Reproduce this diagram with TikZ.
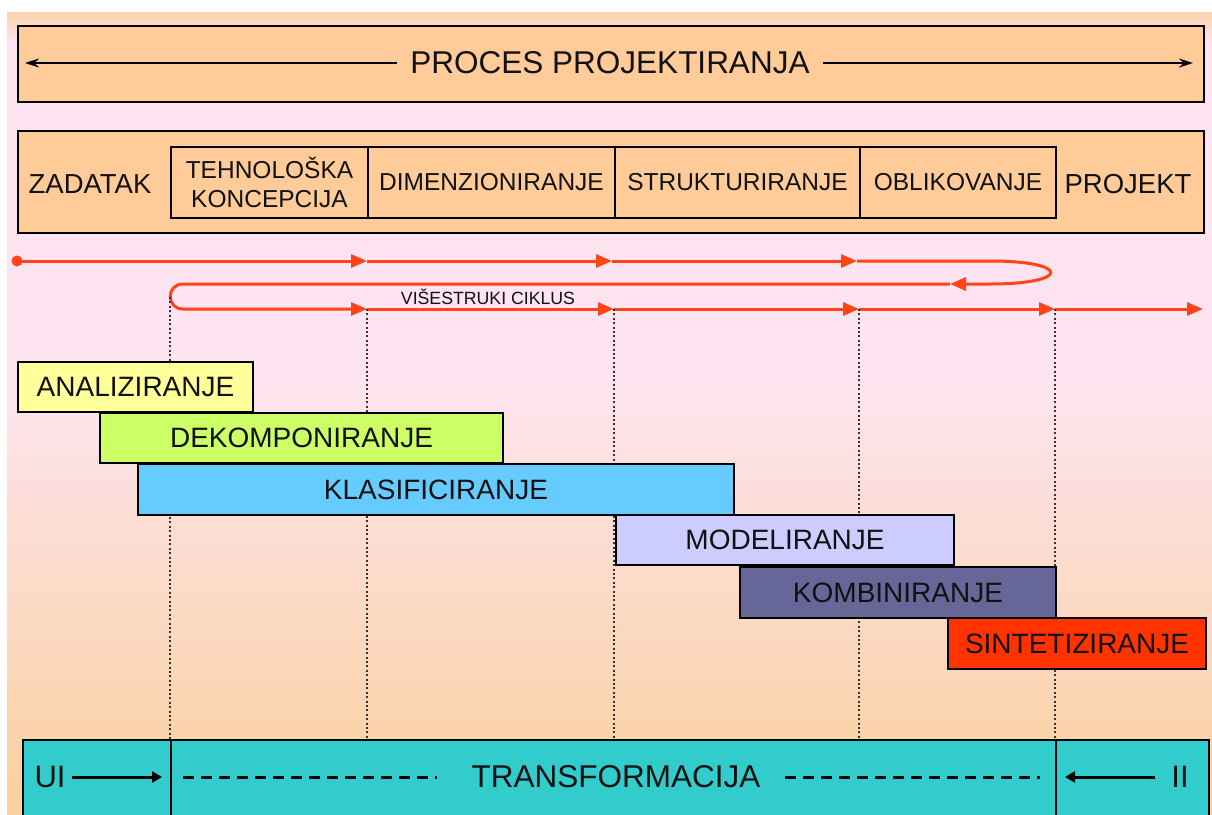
\documentclass[tikz,border=0pt]{standalone}
\usepackage{fontspec}
\setmainfont{Liberation Sans}
\usetikzlibrary{arrows.meta}
\definecolor{peach}{HTML}{FFCC99}
\definecolor{bgtop}{HTML}{FCD3AE}
\definecolor{bgpink}{HTML}{FDE4F0}
\definecolor{bgbot}{HTML}{FAD09C}
\definecolor{redc}{HTML}{FF4418}
\definecolor{cana}{HTML}{FFFF99}
\definecolor{cdek}{HTML}{CCFF66}
\definecolor{ckla}{HTML}{66CCFF}
\definecolor{cmod}{HTML}{CCCCFF}
\definecolor{ckom}{HTML}{666699}
\definecolor{csin}{HTML}{FF3300}
\definecolor{cteal}{HTML}{33CCCC}
\definecolor{txt}{HTML}{111111}
\pgfdeclareverticalshading{bgshade}{100bp}{color(0bp)=(bgbot); color(25bp)=(bgbot); color(52bp)=(bgpink); color(73bp)=(bgpink); color(75bp)=(bgtop); color(100bp)=(bgtop)}
\tikzset{
  box/.style={draw=black, line width=2pt, fill=peach, inner sep=0pt, anchor=north west, text=txt, align=center},
  bar/.style={draw=black, line width=2pt, inner sep=0pt, anchor=north west, text=txt, font=\fontsize{28}{30}\selectfont},
  redl/.style={draw=redc, line width=3pt},
  rtip/.style={-{Triangle[length=16pt,width=13pt]}},
  dotl/.style={draw=black!80, line width=2pt, dash pattern=on 2pt off 2.4pt},
  blk/.style={draw=black, line width=1.5pt, -{Stealth[length=14pt,width=9pt]}},
  blkb/.style={draw=black, line width=3pt, -{Triangle[length=10pt,width=11pt]}},
  tbox/.style={draw=black, line width=2pt, fill=cteal, inner sep=0pt, anchor=north west}
}
\begin{document}
\begin{tikzpicture}[x=1pt,y=-1pt]
\useasboundingbox (0,0) rectangle (1212,814);
\clip (0,0) rectangle (1212,814);
\fill[white] (0,0) rectangle (1212,814);
\shade[shading=bgshade] (7,12) rectangle (1212,814);

% top box
\node[box, minimum width=1186pt, minimum height=76pt] (proc) at (17,25) {};
\node[text=txt, font=\fontsize{31.5}{33}\selectfont] (ptext) at (610,63) {PROCES PROJEKTIRANJA};
\coordinate (pl) at (25,63);
\coordinate (pr) at (1193,63);
\draw[blk] ([xshift=-10pt]ptext.west) -- (pl);
\draw[blk] ([xshift=10pt]ptext.east) -- (pr);

% second row
\node[box, minimum width=1186pt, minimum height=102pt] (row) at (17,130) {};
\node[text=txt, font=\fontsize{27.5}{30}\selectfont] (zad) at (90,184) {ZADATAK};
\node[text=txt, font=\fontsize{27.5}{30}\selectfont] (proj) at (1128,184) {PROJEKT};
\node[box, minimum width=197pt, minimum height=71pt, font=\fontsize{24.5}{29}\selectfont] (tk) at (170,146) {TEHNOLOŠKA\\KONCEPCIJA};
\node[box, minimum width=247pt, minimum height=71pt, font=\fontsize{24.5}{29}\selectfont] (dim) at (367,146) {DIMENZIONIRANJE};
\node[box, minimum width=245pt, minimum height=71pt, font=\fontsize{24.5}{29}\selectfont] (str) at (614,146) {STRUKTURIRANJE};
\node[box, minimum width=196pt, minimum height=71pt, font=\fontsize{24.5}{29}\selectfont] (obl) at (859,146) {OBLIKOVANJE};

% red process line
\coordinate (t0) at (17,261);
\coordinate (t1) at (367,261);
\coordinate (t2) at (612,261);
\coordinate (t3) at (857,261);
\coordinate (t4) at (990,261);
\coordinate (r0) at (990,284);
\coordinate (r1) at (950,284);
\coordinate (r2) at (183,284);
\coordinate (b0) at (183,309);
\coordinate (b1) at (367,309);
\coordinate (b2) at (614,309);
\coordinate (b3) at (859,309);
\coordinate (b4) at (1055,309);
\coordinate (b5) at (1203,309);
\fill[redc] (t0) circle (5.5pt);
\draw[redl, rtip] (t0) -- (t1);
\draw[redl, rtip] (t1) -- (t2);
\draw[redl, rtip] (t2) -- (t3);
\draw[redl, rtip] (t3) -- (t4) .. controls (1071,261) and (1071,284) .. (r0) -- (r1);
\draw[redl, rtip] (r1) -- (r2) .. controls (166,284) and (166,309) .. (b0) -- (b1);
\draw[redl, rtip] (b1) -- (b2);
\draw[redl, rtip] (b2) -- (b3);
\draw[redl, rtip] (b3) -- (b4);
\draw[redl, rtip] (b4) -- (b5);
\node[text=txt, font=\fontsize{17.7}{19}\selectfont] (cik) at (488,297) {VIŠESTRUKI CIKLUS};

% dotted guides
\coordinate (d0a) at (170,297);
\coordinate (d0b) at (170,740);
\coordinate (d1b) at (367,740);
\coordinate (d2b) at (614,740);
\coordinate (d3b) at (859,740);
\coordinate (d4b) at (1055,740);
\draw[dotl] (d0a) -- (d0b);
\draw[dotl] (b1) -- (d1b);
\draw[dotl] (b2) -- (d2b);
\draw[dotl] (b3) -- (d3b);
\draw[dotl] (b4) -- (d4b);

% bars
\node[bar, fill=cana, minimum width=235pt, minimum height=50pt] (ana) at (17,361) {ANALIZIRANJE};
\node[bar, fill=cdek, minimum width=403pt, minimum height=50pt] (dek) at (99,412) {DEKOMPONIRANJE};
\node[bar, fill=ckla, minimum width=596pt, minimum height=51pt] (kla) at (137,463) {KLASIFICIRANJE};
\node[bar, fill=cmod, minimum width=338pt, minimum height=50pt] (mod) at (615,514) {MODELIRANJE};
\node[bar, fill=ckom, minimum width=316pt, minimum height=51pt] (kom) at (739,566) {KOMBINIRANJE};
\node[bar, fill=csin, minimum width=258pt, minimum height=51pt] (sin) at (947,617) {SINTETIZIRANJE};

% bottom
\node[tbox, minimum width=148pt, minimum height=90pt] (uibox) at (22,739) {};
\node[tbox, minimum width=885pt, minimum height=90pt] (trbox) at (170,739) {};
\node[tbox, minimum width=153pt, minimum height=90pt] (iibox) at (1055,739) {};
\node[text=txt, font=\fontsize{31}{33}\selectfont] (ui) at (50,777) {UI};
\node[text=txt, font=\fontsize{31}{33}\selectfont] (ii) at (1180,777) {II};
\node[text=txt, font=\fontsize{31.5}{33}\selectfont] (trtext) at (616,777) {TRANSFORMACIJA};
\coordinate (uia) at (72,777);
\coordinate (uib) at (162,777);
\coordinate (iia) at (1155,777);
\coordinate (iib) at (1065,777);
\draw[blkb] (uia) -- (uib);
\draw[blkb] (iia) -- (iib);
\coordinate (dl1) at (183,777);
\coordinate (dl2) at (437,777);
\coordinate (dr1) at (785,777);
\coordinate (dr2) at (1040,777);
\draw[black, line width=3pt, dash pattern=on 11pt off 7pt] (dl1) -- (dl2);
\draw[black, line width=3pt, dash pattern=on 11pt off 7pt] (dr1) -- (dr2);
\end{tikzpicture}
\end{document}
